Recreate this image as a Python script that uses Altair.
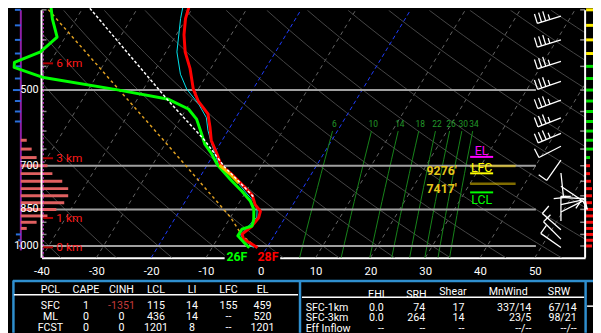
import math
import numpy as np
import pandas as pd
import altair as alt

# ---------------- data ----------------
# environmental temperature (hPa, degC)
T_P = [1008, 970, 949, 921, 882, 857, 832, 797, 768, 724, 698, 668, 625, 589, 556, 525, 498, 454, 422, 391, 364, 339]
T_C = [-1.7, -5.2, -6.0, -5.2, -4.8, -5.2, -6.9, -8.5, -10.9, -14.8, -17.5, -19.2, -22.0, -23.7, -25.5, -28.7, -30.9, -33.8, -36.5, -38.6, -40.1, -41.0]
# dewpoint
TD_P = [1008, 984, 956, 928, 915, 889, 850, 820, 785, 745, 698, 663, 635, 607, 569, 544, 521, 499, 473, 452, 442, 422, 395, 364, 339]
TD_C = [-3.2, -4.8, -6.6, -6.6, -5.1, -5.5, -6.6, -8.1, -10.7, -14.1, -18.1, -20.5, -22.8, -24.5, -27.0, -29.6, -34.3, -44.9, -59.5, -66.0, -66.5, -62.9, -61.5, -64.4, -66.5]
# wet-bulb
WB_P = [1008, 970, 950, 920, 880, 850, 820, 790, 745, 700, 683, 639, 598, 565, 532, 498, 466, 422, 364, 339]
WB_C = [-2.4, -5.3, -6.3, -5.8, -5.2, -6.0, -7.5, -9.8, -13.2, -17.8, -18.7, -21.3, -23.7, -25.4, -28.3, -32.1, -34.9, -38.0, -41.0, -42.2]
# lifted parcel trace
PCL_P = [803, 745, 703, 625, 525, 339]
PCL_C = [-8.1, -12.9, -16.7, -23.2, -34.1, -60.2]
# downdraft parcel trace
DD_P = [1006, 956, 880, 673, 625, 343]
DD_C = [-1.9, -5.8, -10.0, -26.2, -30.7, -67.3]
# dendritic growth zone part of the temperature trace
DGZ_SEG_P = [756, 724, 698]
DGZ_SEG_C = [-12.0, -14.8, -17.5]
DGZ_P = [700.6, 758.6]
DGZ_FT = ["9276'", "7417'"]

# surface labels
SFC_LABELS = ["26F", "28F"]

# labelled pressure levels and height markers
PLEV = [1000, 850, 700, 500]
TICK_P = list(range(350, 1001, 50))
HGT_TXT = ["0 km", "1 km", "3 km", "6 km"]
HGT_P = [1006, 883, 677, 444]

# mixing-ratio lines (g/kg)
MIXR = [6, 10, 14, 18, 22, 26, 30, 34]

# parcel levels
LVL_NAMES = ["EL", "LFC", "LCL"]
LVL_P = [673, 724, 788]

# winds (hPa, deg, kt)
WIND_P = [360, 400, 440, 481, 523, 566, 606, 642, 683, 723, 767, 806, 832, 860, 895, 930, 970, 1007]
WIND_DIR = [253, 253, 252, 251, 250, 249, 247, 243, 215, 174, 124, 93, 78, 63, 0, 311, 315, 305]
WIND_SPD = [35, 35, 35, 35, 35, 35, 35, 10, 10, 10, 10, 10, 10, 10, 10, 10, 10, 10]

# vertical-motion strip (1 unit = 10 px bar)
OMEGA_P = [350, 375, 400, 425, 450, 475, 500, 525, 550, 575, 625, 650, 675, 700, 725, 750, 775, 800, 825, 850, 875, 900, 925, 950, 975, 1000]
OMEGA = [-0.6, -0.6, -0.6, -0.6, -0.5, -0.6, -0.8, -0.6, -0.6, -0.6, 0.6, 1.1, 1.6, 2.7, 3.2, 4.2, 4.8, 4.8, 4.4, 3.6, 2.7, 1.6, 0.6, -0.5, -0.3, -0.2]

# right strip
ADV_P = [350, 375, 400, 425, 450, 475, 500, 525, 550, 575, 600, 625, 650, 675, 700, 725, 750, 775, 800, 825, 850, 875, 900, 925, 950, 975, 1000]
ADV_CLASS = ["y"] * 4 + ["g"] * 10 + ["r"] * 13
ADV_LEN = [7, 7, 7, 7, 7, 7, 7, 7, 7, 7, 7, 7, 7, 4, 4, 4, 5, 6, 6, 6, 7, 7, 7, 8, 7, 8, 6]

# table
HEAD_L = ["PCL", "CAPE", "CINH", "LCL", "LI", "LFC", "EL"]
PCL_NAMES = ["SFC", "ML", "FCST"]
CAPE = ["1", "0", "0"]
CINH = ["-1351", "0", "0"]
LCL = ["115", "436", "1201"]
LI = ["14", "14", "8"]
LFC = ["155", "--", "--"]
EL = ["459", "520", "1201"]
HEAD_R = ["EHI", "SRH", "Shear", "MnWind", "SRW"]
LAYERS = ["SFC-1km", "SFC-3km", "Eff Inflow"]
EHI = ["0.0", "0.0", "--"]
SRH = ["74", "264", "--"]
SHEAR = ["17", "14", "--"]
MNWIND = ["337/14", "23/5", "--/--"]
SRW = ["67/14", "98/21", "--/--"]

# ---------------- geometry / style ----------------
P_BOT, P_TOP = 1054.05, 350.55
SKEW = 24.8
X_MIN, X_MAX = -40.0, 59.18
PW, PH = 551, 251
FONT = "Roboto"
XEXPR = f"datum.t + {SKEW}*log({P_BOT}/datum.p)"

xs = alt.Scale(domain=[X_MIN, X_MAX], nice=False, zero=False)
ys = alt.Scale(type="log", domain=[P_TOP, P_BOT], reverse=True, nice=False)
xaxis = alt.Axis(values=list(range(-40, 51, 10)), title=None, grid=False, ticks=False,
                 domainColor="white", domainWidth=2, labelColor="white", labelFont=FONT,
                 labelFontSize=11.5, labelPadding=8, labelFlush=False, labelOverlap=False,
                 labelExpr="'' + datum.value")
XE = alt.X("X:Q", scale=xs, axis=xaxis)
X2E = alt.X2("X2:Q")
YE = alt.Y("p:Q", scale=ys, axis=None)
Y2E = alt.Y2("p2:Q")


def prof(p, t, color, width, dash=None, xoff=None):
    df = pd.DataFrame({"p": p, "t": t, "i": range(len(p))})
    kw = dict(color=color, strokeWidth=width, clip=False, strokeJoin="round")
    if dash:
        kw["strokeDash"] = dash
    if xoff:
        kw["xOffset"] = xoff
    return (alt.Chart(df).transform_calculate(X=XEXPR)
            .mark_line(**kw).encode(x=XE, y=YE, order="i:Q"))


def grid(df, color, width, dash=None):
    kw = dict(color=color, strokeWidth=width, clip=True)
    if dash:
        kw["strokeDash"] = dash
    return (alt.Chart(df).transform_calculate(X=XEXPR)
            .mark_line(**kw).encode(x=XE, y=YE, detail="g:N", order="i:Q"))


def hrule(df, color, width, clip=False, opacity=1.0, color_field=False):
    kw = dict(strokeWidth=width, clip=clip, opacity=opacity)
    enc = dict(x=XE, x2=X2E, y=YE)
    if color_field:
        enc["color"] = alt.Color("c:N", scale=None)
    else:
        kw["color"] = color
    return alt.Chart(df).mark_rule(**kw).encode(**enc)


def vrule(df, color, width, dash=None):
    kw = dict(color=color, strokeWidth=width, clip=False)
    if dash:
        kw["strokeDash"] = dash
    return alt.Chart(df).mark_rule(**kw).encode(x=XE, y=YE, y2=Y2E)


def text(df, color, size, align="center", dx=0, dy=0, weight="normal", skewed=False):
    ch = alt.Chart(df)
    if skewed:
        ch = ch.transform_calculate(X=XEXPR)
    return ch.mark_text(color=color, fontSize=size, font=FONT, align=align, baseline="middle",
                        dx=dx, dy=dy, fontWeight=weight).encode(x=XE, y=YE, text="s:N")


layers = []

# isotherms
iso = []
for g, T in enumerate(range(-130, 51, 10)):
    if T in (-20, 0):
        continue
    for i, p in enumerate([P_BOT, P_TOP]):
        iso.append({"g": g, "i": i, "p": p, "t": T})
layers.append(grid(pd.DataFrame(iso), "#666666", 1, [4, 4]))
iso_b = []
for g, T in enumerate([-20, 0]):
    for i, p in enumerate([P_BOT, P_TOP]):
        iso_b.append({"g": g, "i": i, "p": p, "t": T})

# dry adiabats
dry = []
for g, T0 in enumerate(range(-100, 201, 10)):
    for i, p in enumerate(np.geomspace(P_BOT, P_TOP, 30)):
        dry.append({"g": g, "i": i, "p": p, "t": (T0 + 273.15) * (p / 1000.0) ** 0.2857 - 273.15})
layers.append(grid(pd.DataFrame(dry), "#464646", 1))
layers.append(grid(pd.DataFrame(iso_b), "#1e3cff", 1, [4, 3]))


# mixing ratio lines
def td_from_w(w, p):
    e = w * p / (622.0 + w)
    a = math.log(e / 6.112)
    return 243.5 * a / (17.67 - a)


mr, mrl = [], []
for g, w in enumerate(MIXR):
    for i, p in enumerate(np.geomspace(P_BOT, 600, 10)):
        mr.append({"g": g, "i": i, "p": p, "t": td_from_w(w, p)})
    mrl.append({"p": 582, "t": td_from_w(w, 582), "s": str(w)})
layers.append(grid(pd.DataFrame(mr), "#17851a", 1))
layers.append(text(pd.DataFrame(mrl), "#22992a", 8.5, skewed=True))

# pressure lines and ticks
layers.append(hrule(pd.DataFrame({"p": PLEV, "X": -40.0, "X2": 50.2}), "#a0a0a0", 2))
layers.append(hrule(pd.DataFrame({"p": TICK_P, "X": -40.0, "X2": -39.1}), "#8a8a8a", 1.5))
layers.append(hrule(pd.DataFrame({"p": TICK_P, "X": 58.28, "X2": 59.18}), "#8a8a8a", 1.5))

# left strip: vertical motion
X0 = -43.78
layers.append(vrule(pd.DataFrame({"X": [X0], "p": [1020], "p2": [P_TOP]}), "#8e1fa8", 2))
om = pd.DataFrame({"p": OMEGA_P, "X": X0, "X2": [X0 + v * 1.8 for v in OMEGA],
                   "c": ["#e06060" if v > 0 else "#2a6fdb" for v in OMEGA]})
layers.append(hrule(om[om.X2 > X0], None, 3, color_field=True))
layers.append(hrule(om[om.X2 < X0], None, 2, color_field=True))

# right strip
cmap = {"y": "#ffee00", "g": "#00e000", "r": "#ff1010"}
adv = pd.DataFrame({"p": ADV_P, "X": 59.36, "X2": [59.36 + L / 5.5556 for L in ADV_LEN],
                    "c": [cmap[c] for c in ADV_CLASS]})
layers.append(hrule(adv, None, 3, color_field=True))

# frame
layers.append(vrule(pd.DataFrame({"X": [-40.0], "p": [P_BOT], "p2": [P_TOP]}), "white", 2))
layers.append(vrule(pd.DataFrame({"X": [-39.7], "p": [P_BOT], "p2": [P_TOP]}), "#ff40ff", 1, [2, 2]))
layers.append(vrule(pd.DataFrame({"X": [X_MAX], "p": [P_BOT], "p2": [P_TOP]}), "white", 2))

# height markers
layers.append(hrule(pd.DataFrame({"p": HGT_P, "X": -39.7, "X2": -37.9}), "#b00000", 2))
layers.append(text(pd.DataFrame({"p": HGT_P, "X": -40.0, "s": HGT_TXT}), "#ff1a1a", 12, "left", dx=15))
# pressure labels
layers.append(text(pd.DataFrame({"p": PLEV, "X": -40.0, "s": [str(v) for v in PLEV]}), "white", 11, "right", dx=-3))

# profiles
layers.append(prof(DD_P, DD_C, "#e0a020", 1.5, [3, 3]))
layers.append(prof(WB_P, WB_C, "#00e5ee", 1))
layers.append(prof(T_P, T_C, "#ff0000", 3))
layers.append(prof(TD_P, TD_C, "#00ff00", 3))
layers.append(prof(DGZ_SEG_P, DGZ_SEG_C, "#f5b800", 3, xoff=-1.5))
layers.append(prof(PCL_P, PCL_C, "white", 1.5, [3, 2]))

# surface labels
box = pd.DataFrame({"p": [P_BOT], "X": [TD_C[0] + SKEW * math.log(P_BOT / TD_P[0])],
                    "X2": [T_C[0] + SKEW * math.log(P_BOT / T_P[0])]})
layers.append(alt.Chart(box).mark_rule(color="black", strokeWidth=13, xOffset=-25, x2Offset=23)
              .encode(x=XE, x2=X2E, y=YE))
lab_td = pd.DataFrame({"p": [P_BOT], "X": box.X, "s": [SFC_LABELS[0]]})
lab_t = pd.DataFrame({"p": [P_BOT], "X": box.X2, "s": [SFC_LABELS[1]]})
layers.append(text(lab_td, "#00ff00", 12.5, "right", dx=-2, dy=-0.5, weight="bold"))
layers.append(text(lab_t, "#ff0000", 12.5, "left", dx=0, dy=-0.5, weight="bold"))

# DGZ markers
layers.append(hrule(pd.DataFrame({"p": DGZ_P, "X": 38.2, "X2": 46.5}), "#ffd700", 2.5, opacity=0.5))
layers.append(text(pd.DataFrame({"p": DGZ_P, "X": 38.2, "s": DGZ_FT}), "#e5c51b", 12.5, "right",
                   dx=-13.5, dy=5.5, weight="bold"))

# parcel level markers
lvl_col = {"EL": "#ff00ff", "LFC": "#ffff00", "LCL": "#00ff00"}
lvl_dy = {"EL": -5.5, "LFC": -5.5, "LCL": 7.5}
for n, p in zip(LVL_NAMES, LVL_P):
    layers.append(hrule(pd.DataFrame({"p": [p], "X": [38.2], "X2": [42.4]}), lvl_col[n], 2))
    layers.append(text(pd.DataFrame({"p": [p], "X": [40.3], "s": [n]}), lvl_col[n], 12.5, dy=lvl_dy[n]))


# wind barbs
def barb_path(direction, speed, L=25.0, flen=10.0, gap=4.4, k=20.0):
    d = math.radians(direction)
    sx, sy = math.sin(d), -math.cos(d)
    fx, fy = math.cos(d), math.sin(d)
    segs = [(0.0, 0.0, sx * L, sy * L)]
    n10 = int(speed // 10)
    n5 = 1 if speed - 10 * n10 >= 5 else 0
    pos = L
    for _ in range(n10):
        bx, by = sx * pos, sy * pos
        segs.append((bx, by, bx + fx * flen, by + fy * flen))
        pos -= gap
    if n5:
        if n10 == 0:
            pos -= gap
        bx, by = sx * pos, sy * pos
        segs.append((bx, by, bx + fx * flen * 0.55, by + fy * flen * 0.55))
    return "".join(f"M{a / k:.3f},{b / k:.3f}L{c / k:.3f},{e / k:.3f}" for a, b, c, e in segs)


barbs = pd.DataFrame({"p": WIND_P, "X": 54.77,
                      "path": [barb_path(d, s) for d, s in zip(WIND_DIR, WIND_SPD)]})
layers.append(alt.Chart(barbs).mark_point(filled=False, color="white", strokeWidth=1.3, opacity=1,
                                          size=1600, clip=False)
              .encode(x=XE, y=YE, shape=alt.Shape("path:N", scale=None)))

skew = alt.layer(*layers)

# ---------------- table (pixel-layout scales) ----------------
tx = alt.Scale(domain=[0, 601], range=[-42, 559], nice=False, zero=False)
ty = alt.Scale(domain=[0, 333], range=[-8, 325], nice=False, zero=False)
TX = alt.X("tx:Q", scale=tx, axis=None)
TY = alt.Y("ty:Q", scale=ty, axis=None)

rows = []
L_X = [51, 87, 123, 158, 194.5, 231.5, 266]
for j, h in enumerate(HEAD_L):
    rows.append((L_X[j], 292, h, "white", "center"))
ROW_Y = [308.2, 318.9, 329.8]
for r in range(3):
    vals = [PCL_NAMES[r], CAPE[r], CINH[r], LCL[r], LI[r], LFC[r], EL[r]]
    for j, v in enumerate(vals):
        col = "#c23a3a" if (j == 2 and v.startswith("-") and v != "--") else "white"
        rows.append((L_X[j], ROW_Y[r], v, col, "center"))
R_HX = [381.4, 422, 459, 515, 566.5]
R_HY = [296.8, 296.8, 293.8, 293.8, 293.8]
for j, h in enumerate(HEAD_R):
    rows.append((R_HX[j], R_HY[j], h, "white", "center"))
R_VX = [389, 431, 470.7, 538.5, 584.5]
R_ROW_Y = [309.8, 320.5, 331]
for r in range(3):
    rows.append((309.7, R_ROW_Y[r], LAYERS[r], "white", "left"))
    for j, v in enumerate([EHI[r], SRH[r], SHEAR[r], MNWIND[r], SRW[r]]):
        rows.append((R_VX[j], R_ROW_Y[r], v, "white", "right"))
tdf = pd.DataFrame(rows, columns=["tx", "ty", "s", "c", "a"])

tlayers = []
for a in ["center", "left", "right"]:
    tlayers.append(alt.Chart(tdf[tdf.a == a]).mark_text(font=FONT, fontSize=10.8, align=a, baseline="middle",
                                                       clip=False)
                   .encode(x=TX, y=TY, text="s:N", color=alt.Color("c:N", scale=None)))

tl = pd.DataFrame([
    (13, 601, 282.5, 282.5, "#2f8fcf", 2.5),
    (13.5, 13.5, 282, 335, "#2f8fcf", 2.5),
    (304, 304, 282, 335, "#2f8fcf", 2.5),
    (593.5, 593.5, 282, 335, "#2f8fcf", 2.5),
    (14, 302, 296.5, 296.5, "white", 1.5),
    (306, 592, 299, 299, "white", 1.5),
    (595, 601, 308, 308, "white", 1.5),
], columns=["tx", "tx2", "ty", "ty2", "c", "w"])
tlayers.insert(0, alt.Chart(tl).mark_rule(clip=False).encode(
    x=TX, x2="tx2:Q", y=TY, y2="ty2:Q", color=alt.Color("c:N", scale=None),
    strokeWidth=alt.StrokeWidth("w:Q", scale=None)))

table = alt.layer(*tlayers)

chart = (alt.layer(skew, table)
         .resolve_scale(x="independent", y="independent")
         .properties(width=PW, height=PH, background="black",
                     autosize=alt.AutoSizeParams(type="none"),
                     padding={"left": 34, "top": 0, "right": 8, "bottom": 74})
         .configure_view(strokeWidth=0))

chart.save("out.html", embed_options={"renderer": "svg", "actions": False})
